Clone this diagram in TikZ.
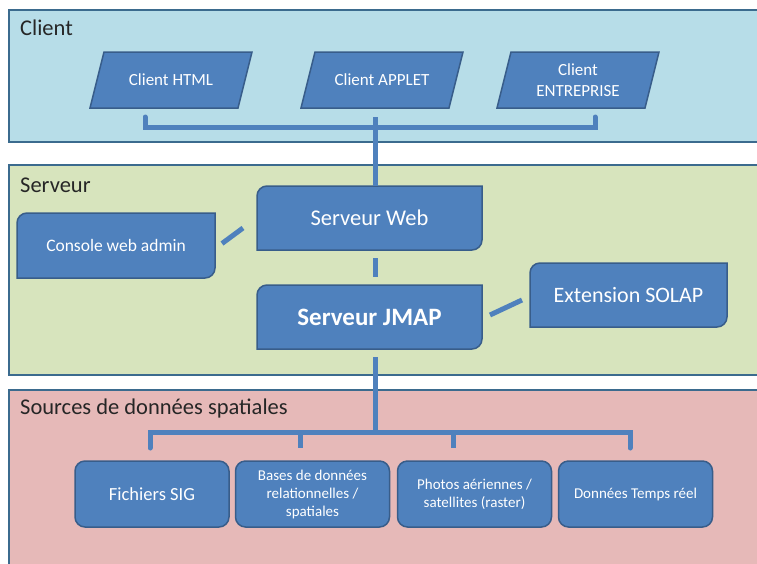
\documentclass[tikz,border=0pt]{standalone}
\usepackage{fontspec}
\setmainfont{Carlito}
\usetikzlibrary{calc}
\definecolor{bandline}{HTML}{3B6B8E}
\definecolor{clientfill}{HTML}{B7DDE8}
\definecolor{serverfill}{HTML}{D7E4BD}
\definecolor{sourcefill}{HTML}{E6B9B8}
\definecolor{boxfill}{HTML}{4F81BD}
\definecolor{boxline}{HTML}{385D8A}
\pgfdeclarelayer{bands}
\pgfdeclarelayer{shapes}
\pgfsetlayers{bands,shapes,main}
\newcommand\diagshape[1]{\draw[shapefill] (#1.south west) -- ([yshift=-10pt]#1.north west) arc[start angle=180,end angle=90,radius=10pt] -- (#1.north east) -- ([yshift=10pt]#1.south east) arc[start angle=0,end angle=-90,radius=10pt] -- cycle;}
\newcommand\paralshape[1]{\draw[shapefill] ([xshift=-7pt]#1.south west) -- ([xshift=7pt]#1.north west) -- ([xshift=7pt]#1.north east) -- ([xshift=-7pt]#1.south east) -- cycle;}
\newcommand\roundshape[1]{\draw[shapefill,rounded corners=10pt] (#1.south west) rectangle (#1.north east);}
\tikzset{
  band/.style={draw=bandline,line width=1.8pt},
  bandlabel/.style={anchor=west,font=\fontsize{22.5}{22.5}\selectfont,text=black!85,inner sep=0},
  boxtext/.style={text=white,align=center,inner sep=0,outer sep=0},
  clientbox/.style={boxtext,minimum width=148pt,minimum height=56pt,font=\fontsize{17}{21}\selectfont},
  srcbox/.style={boxtext,minimum width=154pt,minimum height=66pt,font=\fontsize{15}{18}\selectfont},
  shapefill/.style={fill=boxfill,draw=boxline,line width=1.5pt},
  conn/.style={draw=boxfill,line width=5pt},
}
\begin{document}
\begin{tikzpicture}[x=1pt,y=-1pt]
\useasboundingbox (0,0) rectangle (757,563);
\clip (0,0) rectangle (757,563);
\begin{pgfonlayer}{bands}
  \fill[white] (0,0) rectangle (757,563);
  \draw[band,fill=clientfill] (9,10) rectangle (775,142);
  \draw[band,fill=serverfill] (9,165) rectangle (775,375);
  \draw[band,fill=sourcefill] (9,390) rectangle (775,580);
\end{pgfonlayer}

\node[bandlabel] (lclient) at (20,28) {Client};
\node[bandlabel] (lserveur) at (20,185) {Serveur};
\node[bandlabel] (lsources) at (20,408) {Sources de données spatiales};

% clients
\node[clientbox] (html) at (171,80) {Client HTML};
\node[clientbox] (applet) at (382,80) {Client APPLET};
\node[clientbox] (entr) at (578,80) {Client\\ENTREPRISE};

% server
\node[boxtext,minimum width=225pt,minimum height=64pt,font=\fontsize{22.5}{24}\selectfont] (web) at (369.5,218) {Serveur Web};
\node[boxtext,minimum width=198pt,minimum height=65pt,font=\fontsize{17.5}{19}\selectfont] (console) at (116,245.5) {Console web admin};
\node[boxtext,minimum width=225pt,minimum height=64pt,font=\bfseries\fontsize{25}{27}\selectfont] (jmap) at (369.5,317) {Serveur JMAP};
\node[boxtext,minimum width=197pt,minimum height=64pt,font=\fontsize{22}{24}\selectfont] (solap) at (628.5,295) {Extension SOLAP};

% sources
\node[srcbox,font=\fontsize{18.5}{20}\selectfont] (sig) at (152,494) {Fichiers SIG};
\node[srcbox] (bdd) at (312.5,494) {Bases de données\\relationnelles /\\spatiales};
\node[srcbox] (photos) at (474.5,494) {Photos aériennes /\\satellites (raster)};
\node[srcbox] (temps) at (635.5,494) {Données Temps réel};

\begin{pgfonlayer}{shapes}
  \paralshape{html}
  \paralshape{applet}
  \paralshape{entr}
  \diagshape{web}
  \diagshape{console}
  \diagshape{jmap}
  \diagshape{solap}
  \roundshape{sig}
  \roundshape{bdd}
  \roundshape{photos}
  \roundshape{temps}
\end{pgfonlayer}

% client bracket
\coordinate (cl) at (145,117);
\coordinate (cr) at (595,117);
\coordinate (cm) at (375,117);
\draw[conn,line cap=round] (cl) -- (145,127) -- (595,127) -- (cr);
\draw[conn] (cm) -- (cm |- web.north);

% server links
\draw[conn] ($(console.east)+(7,-2)$) -- ($(web.west)+(-14,10)$);
\draw[conn] ($(web.south)+(5.5,8)$) -- ($(jmap.north)+(5.5,-8)$);
\draw[conn] ($(jmap.east)+(8,-2)$) -- ($(solap.west)+(-8,5)$);

% sources bracket
\coordinate (sm) at (375,432);
\draw[conn] ($(jmap.south)+(5.5,8)$) -- (sm);
\coordinate (s1) at (150,448);
\coordinate (s2) at (300,448);
\coordinate (s3) at (453,448);
\coordinate (s4) at (630,448);
\draw[conn,line cap=round] (s1) -- (150,432) -- (630,432) -- (s4);
\draw[conn] (300,432) -- (s2);
\draw[conn] (453,432) -- (s3);
\end{tikzpicture}
\end{document}
